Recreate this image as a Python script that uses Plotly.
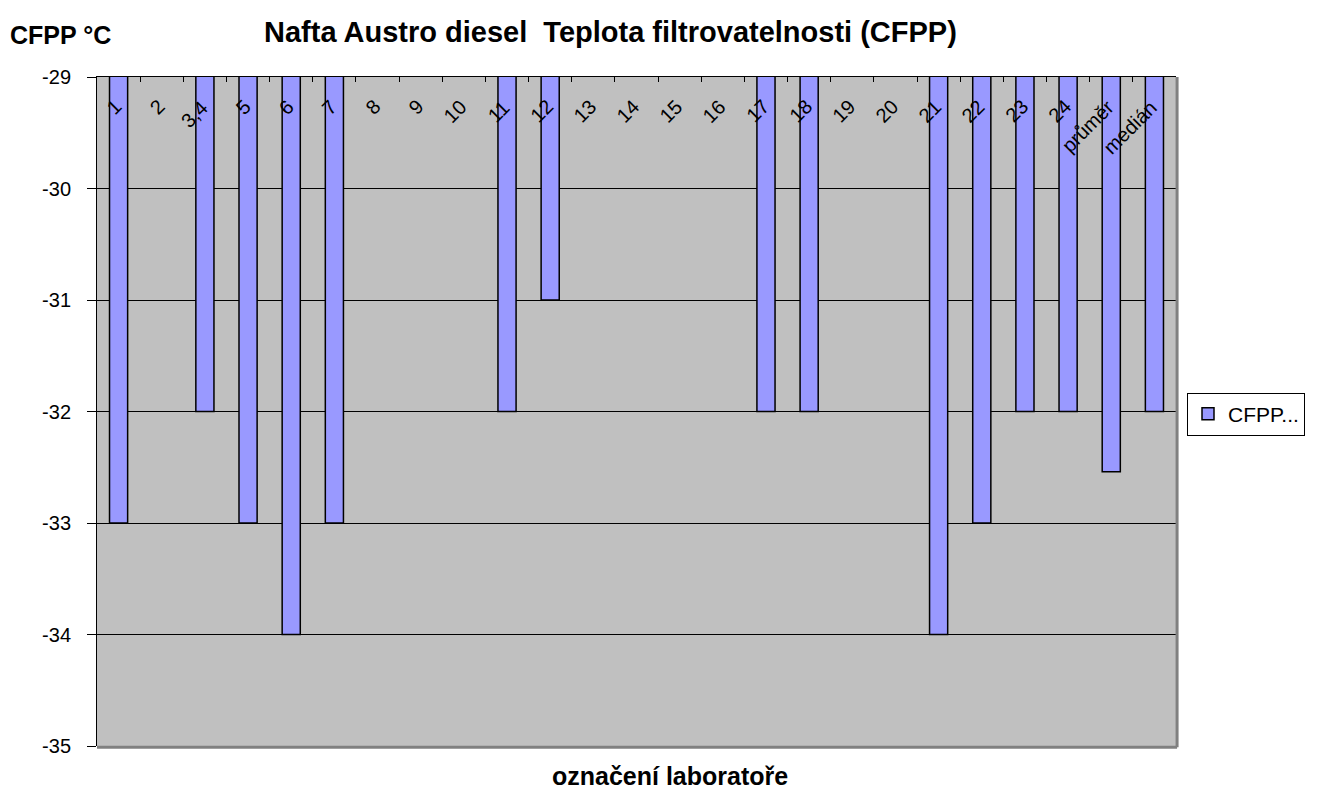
import plotly.graph_objects as go

categories = ["1", "2", "3,4", "5", "6", "7", "8", "9", "10", "11", "12", "13", "14",
              "15", "16", "17", "18", "19", "20", "21", "22", "23", "24", "průměr", "medián"]
cfpp = [-33, None, -32, -33, -34, -33, None, None, None, -32, -31, None, None,
        None, None, -32, -32, None, None, -34, -33, -32, -32, -32.54, -32]
y_ticks = [-35, -34, -33, -32, -31, -30, -29]
y_tick_labels = ["-35", "-34", "-33", "-32", "-31", "-30", "-29"]

FONT = "Arial, Liberation Sans, sans-serif"

fig = go.Figure()
fig.add_trace(go.Bar(
    x=categories, y=cfpp, name="CFPP...",
    marker=dict(color="#9999FF", line=dict(color="black", width=1.5)),
))

annotations = []
for i, c in enumerate(categories):
    annotations.append(dict(
        x=i, xref="x", y=1, yref="paper", text=c, showarrow=False,
        textangle=-45, xanchor="right", yanchor="top", xshift=10, yshift=-16,
        font=dict(family=FONT, size=20, color="black"),
    ))

annotations += [
    dict(text="<b>Nafta Austro diesel  Teplota filtrovatelnosti (CFPP)</b>",
         xref="paper", yref="paper", x=(610 - 97) / 1079, y=(746 - 32) / 669,
         xanchor="center", yanchor="middle", showarrow=False,
         font=dict(family=FONT, size=29, color="black")),
    dict(text="<b>CFPP °C</b>", xref="paper", yref="paper",
         x=(8 - 97) / 1079, y=(746 - 35) / 669, xanchor="left", yanchor="middle",
         showarrow=False, font=dict(family=FONT, size=25, color="black")),
    dict(text="<b>označení laboratoře</b>", xref="paper", yref="paper",
         x=(670 - 97) / 1079, y=(746 - 776) / 669, xanchor="center", yanchor="middle",
         showarrow=False, font=dict(family=FONT, size=25, color="black")),
]

fig.update_layout(
    width=1317, height=796,
    margin=dict(l=97, r=141, t=77, b=50),
    paper_bgcolor="white", plot_bgcolor="#C0C0C0",
    bargap=0.58,
    showlegend=True,
    legend=dict(x=(1187 - 97) / 1079, y=(746 - 414) / 669, xanchor="left", yanchor="middle",
                bordercolor="black", borderwidth=1, bgcolor="white",
                font=dict(family=FONT, size=21, color="black")),
    annotations=annotations,
    font=dict(family=FONT, color="black"),
    shapes=[
        dict(type="line", xref="paper", yref="paper", x0=0, x1=1.001, y0=-0.002, y1=-0.002,
             line=dict(color="#808080", width=3)),
        dict(type="line", xref="paper", yref="paper", x0=1.001, x1=1.001, y0=-0.002, y1=1,
             line=dict(color="#808080", width=3)),
    ],
)
fig.update_xaxes(
    type="category", side="top", showticklabels=False, ticks="inside", ticklen=5,
    tickson="boundaries", tickcolor="black", showline=True, linecolor="black", linewidth=1,
    showgrid=False, range=[-0.5, len(categories) - 0.5],
)
fig.update_yaxes(
    range=[-35, -29], tickvals=y_ticks, ticktext=y_tick_labels, ticks="outside", ticklen=9,
    tickcolor="black", ticklabelstandoff=12,
    showline=True, linecolor="black", linewidth=1, showgrid=True, gridcolor="black",
    gridwidth=1, zeroline=False, tickfont=dict(family=FONT, size=20, color="black"),
)

fig.write_html("out.html", config={"displayModeBar": False},
               post_script="document.body.style.margin='0';")
